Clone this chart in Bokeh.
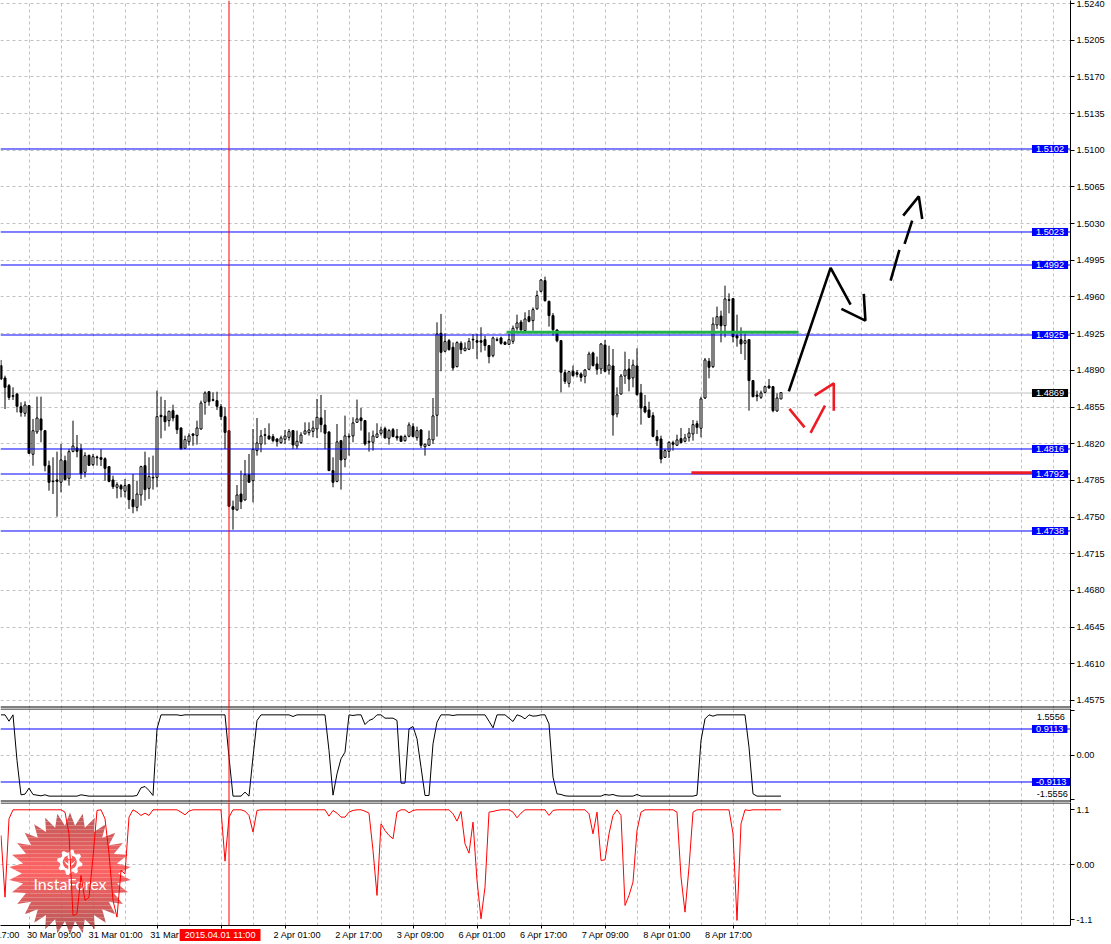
import math
import numpy as np
from bokeh.embed import file_html
from bokeh.resources import INLINE
from bokeh.layouts import column
from bokeh.plotting import figure
from bokeh.models import (ColumnDataSource, FixedTicker, Grid, Label, LinearAxis, NumeralTickFormatter,
                          PolyAnnotation, Range1d, Span)

# ---- prices, in points (1e-5) ---------------------------------------------------------------
open_pts = [
 148945,148827,148754,148658,148674,148553,148490,148563,148099,148312,
 148436,148324,147990,147844,147854,147832,148038,147870,148127,148159,
 148150,147927,148089,148000,148073,148067,148057,147981,147854,147784,
 147800,147746,147809,147666,147593,147711,147990,147774,147879,147879,
 148471,148464,148420,148515,148471,148350,148156,148219,148293,148277,
 148340,148595,148696,148620,148611,148553,148458,148324,147599,147568,
 147720,147663,147905,147847,148134,148197,148286,148274,148268,148245,
 148210,148242,148261,148325,148179,148210,148293,148306,148318,148341,
 148446,148379,148312,147943,147841,148229,148051,148271,148274,148404,
 148446,148420,148223,148214,148261,148299,148344,148252,148334,148271,
 148271,148229,148271,148363,148258,148331,148172,148185,148236,148471,
 149253,149082,149183,149120,148935,149158,149088,149101,149196,149183,
 149183,149193,149136,149040,149193,149209,149168,149148,149177,149304,
 149361,149279,149412,149374,149486,149654,149756,149558,149422,149285,
 149183,148878,148776,148891,148878,148865,148843,148910,149066,148961,
 148913,149142,148903,148942,148484,148674,148846,148913,148827,148942,
 148684,148554,148522,148468,148267,148245,148070,148127,148210,148185,
 148248,148223,148261,148293,148391,148347,148636,148986,148935,149333,
 149418,149326,149574,149584,149231,149193,149158,149193,148802,148665,
 148643,148690,148751,148744,148512,148627]
close_pts = [
 148817,148738,148642,148652,148557,148499,148569,148108,148324,148445,
 148331,147990,147832,147838,147841,148045,147857,148124,148178,148127,
 147911,148086,147994,148076,148067,148051,147965,147841,147790,147809,
 147768,147800,147666,147599,147720,147981,147762,147886,147873,148458,
 148458,148410,148509,148445,148334,148150,148239,148274,148280,148350,
 148588,148684,148601,148614,148557,148458,148308,147603,147574,147711,
 147647,147905,147832,148146,148207,148274,148280,148245,148229,148220,
 148255,148274,148315,148188,148223,148283,148322,148331,148350,148452,
 148382,148299,147943,147832,148217,148045,148274,148264,148398,148436,
 148420,148198,148214,148274,148293,148331,148255,148325,148268,148255,
 148223,148268,148379,148268,148325,148185,148194,148245,148465,149247,
 149072,149174,149098,148923,149164,149098,149113,149177,149190,149168,
 149168,149136,149031,149209,149187,149158,149148,149193,149301,149352,
 149285,149390,149368,149479,149613,149762,149565,149422,149288,149183,
 148881,148795,148887,148849,148862,148833,148903,149056,148945,148910,
 149151,148891,148951,148474,148665,148846,148903,148817,148951,148668,
 148541,148503,148452,148270,148229,148054,148134,148213,148194,148236,
 148210,148255,148302,148382,148356,148627,148999,148929,149342,149412,
 149326,149581,149568,149221,149209,149151,149183,148802,148649,148652,
 148684,148744,148732,148515,148636,148687]
high_pts = [
 148999,148849,148770,148738,148684,148595,148604,148569,148436,148649,
 148649,148331,148038,148070,148124,148197,148086,148149,148420,148283,
 148197,148118,148095,148102,148086,148149,148070,147987,147895,147832,
 147816,147863,147816,147911,147847,147990,148124,148070,148086,148706,
 148649,148617,148515,148572,148477,148356,148277,148299,148299,148420,
 148611,148700,148700,148690,148696,148579,148547,148331,147657,147806,
 147943,148045,148102,148340,148445,148331,148350,148394,148293,148252,
 148277,148331,148341,148331,148325,148309,148404,148404,148420,148627,
 148665,148522,148318,148070,148388,148236,148468,148299,148452,148621,
 148541,148427,148309,148325,148395,148363,148363,148341,148350,148341,
 148277,148287,148404,148395,148363,148338,148204,148325,148636,149358,
 149438,149253,149199,149167,149177,149177,149167,149209,149247,149247,
 149311,149231,149142,149222,149215,149222,149177,149247,149327,149431,
 149381,149454,149476,149501,149660,149772,149794,149565,149447,149291,
 149190,148907,148897,148945,148903,148881,148913,149078,149078,149031,
 149161,149190,149135,149104,148738,148865,149078,149008,149002,149110,
 148770,148665,148601,148500,148331,148277,148150,148223,148229,148286,
 148350,148293,148350,148426,148420,148649,149018,149018,149406,149508,
 149469,149708,149635,149590,149431,149310,149247,149199,148808,148706,
 148706,148754,148817,148751,148681,148693]
low_pts = [
 148808,148531,148617,148617,148499,148458,148458,148102,147990,148293,
 148213,147936,147752,147720,147504,147736,147847,147800,148118,148070,
 147863,147879,147987,147987,147991,147987,147847,147832,147768,147679,
 147688,147688,147577,147536,147555,147609,147657,147672,147762,147784,
 148251,148324,148363,148413,148293,148146,148150,148181,148181,148191,
 148334,148477,148563,148604,148522,148426,148150,147599,147380,147561,
 147577,147657,147832,147641,148086,148118,148191,148239,148213,148172,
 148198,148198,148229,148150,148150,148198,148287,148277,148261,148255,
 148309,148150,147940,147784,147832,147762,147975,148086,148214,148398,
 148325,148182,148124,148134,148255,148277,148249,148191,148261,148229,
 148217,148220,148261,148261,148229,148159,148086,148179,148198,148268,
 148891,149072,149088,148897,148929,149056,149082,149094,149104,149009,
 149072,149088,148967,149024,149177,149145,149145,149145,149152,149279,
 149279,149279,149358,149279,149479,149644,149555,149317,149231,149167,
 148690,148770,148738,148840,148833,148792,148776,148903,148938,148859,
 148865,148881,148859,148277,148452,148668,148770,148700,148738,148659,
 148382,148490,148445,148261,148178,148013,148064,148064,148134,148182,
 148204,148213,148220,148229,148293,148261,148627,148824,148922,149295,
 149167,149215,149444,149167,149126,149056,148999,148515,148643,148604,
 148627,148681,148725,148500,148506,148624]

# ---- oscillators ------------------------------------------------------------------------------
osc_black = [
 1.407,1.407,1.185,1.407,-0.193,-1.396,-1.372,-1.162,-1.384,-1.407,
 -1.431,-1.396,-1.442,-1.442,-1.442,-1.442,-1.442,-1.442,-1.442,-1.442,
 -1.396,-1.419,-1.442,-1.442,-1.442,-1.442,-1.442,-1.442,-1.442,-1.442,
 -1.442,-1.442,-1.442,-1.442,-1.419,-1.150,-1.104,-1.244,-1.419,0.917,
 1.407,1.407,1.407,1.407,1.407,1.384,1.407,1.407,1.407,1.407,
 1.407,1.407,1.407,1.407,1.407,1.407,1.407,-0.076,-1.442,-1.442,
 -1.442,-1.302,-1.442,-0.076,1.209,1.407,1.407,1.407,1.407,1.407,
 1.407,1.407,1.407,1.349,1.407,1.407,1.407,1.407,1.407,1.407,
 1.407,1.407,0.158,-1.407,-0.660,-0.134,0.099,1.407,1.384,1.407,
 1.407,1.069,1.209,1.267,1.407,1.407,1.291,1.291,1.291,1.209,
 -0.987,-0.987,0.917,0.999,0.566,-0.426,-1.419,-1.419,0.391,1.150,
 1.407,1.407,1.407,1.384,1.407,1.407,1.407,1.407,1.407,1.407,
 1.407,1.407,1.185,0.952,1.407,1.407,1.407,1.291,1.174,1.407,
 1.361,1.267,1.407,1.361,1.373,1.407,1.407,1.092,-0.777,-1.361,
 -1.384,-1.431,-1.442,-1.442,-1.442,-1.442,-1.442,-1.442,-1.442,-1.442,
 -1.442,-1.384,-1.407,-1.384,-1.431,-1.442,-1.442,-1.442,-1.442,-1.384,
 -1.442,-1.442,-1.442,-1.442,-1.442,-1.442,-1.442,-1.442,-1.442,-1.442,
 -1.442,-1.442,-1.442,-1.442,-1.407,0.508,1.267,1.407,1.361,1.407,
 1.407,1.407,1.407,1.407,1.407,1.407,1.407,0.274,-1.361,-1.442,
 -1.442,-1.442,-1.442,-1.442,-1.442,-1.442]
osc_red = [
 0.587,-0.647,0.920,1.100,1.100,1.100,1.100,1.100,1.100,1.100,
 1.100,1.100,1.100,1.100,1.100,1.100,1.053,0.620,-1.013,-0.980,
 -0.213,-0.713,-0.647,0.153,1.087,1.100,0.920,0.220,-0.713,-1.047,
 -0.113,-0.180,0.953,1.100,1.053,0.987,1.033,0.987,1.100,1.100,
 1.100,1.100,1.100,1.100,1.100,1.053,1.000,1.073,1.100,1.100,
 1.100,1.100,1.100,1.100,1.100,1.100,0.073,0.953,1.100,1.100,
 1.100,1.073,0.987,0.653,1.087,1.100,1.100,1.100,1.100,1.100,
 1.100,1.100,1.100,1.100,1.100,1.100,1.100,1.100,1.100,1.100,
 1.100,1.100,0.973,1.087,1.033,0.953,0.953,1.053,1.087,1.100,
 1.100,1.073,1.033,0.287,-0.613,0.820,0.687,0.587,0.520,1.053,
 1.100,1.100,1.040,1.087,1.100,1.100,1.100,1.100,1.100,1.100,
 1.100,1.100,1.100,1.020,0.873,1.067,0.420,0.233,0.853,-0.313,
 -1.080,-0.447,1.053,1.067,1.087,1.100,1.100,1.100,1.053,0.940,
 1.033,1.100,1.100,1.100,1.100,1.100,1.100,0.987,1.087,1.100,
 1.100,1.100,1.100,1.100,1.100,1.100,1.100,1.020,0.620,1.053,
 0.087,0.100,0.620,0.987,1.100,0.987,-0.813,-0.613,-0.347,0.687,
 1.053,1.100,1.100,1.100,1.100,1.100,1.100,1.100,1.100,1.053,
 -0.247,-0.947,-0.047,1.053,1.100,1.100,1.100,1.100,1.100,1.100,
 1.100,1.100,1.100,0.620,-1.113,0.820,1.100,1.087,1.100,1.100,
 1.100,1.100,1.100,1.100,1.100,1.100]

# ---- levels and labels ------------------------------------------------------------------------
level_values = [1.510118, 1.502199, 1.49905, 1.492371, 1.481495, 1.479109, 1.473671]
level_labels = ["1.5102", "1.5023", "1.4992", "1.4925", "1.4816", "1.4792", "1.4738"]
bid_price = 1.486837
bid_label = "1.4869"
price_ticks = [1.4575, 1.4610, 1.4645, 1.4680, 1.4715, 1.4750, 1.4785, 1.4820, 1.4855, 1.4890,
               1.4925, 1.4960, 1.4995, 1.5030, 1.5065, 1.5100, 1.5135, 1.5170, 1.5205, 1.5240]
time_tick_bars = [-9, 7, 23, 39, 71, 87, 103, 119, 135, 151, 167, 183]
time_tick_labels = ["27 Mar 17:00", "30 Mar 09:00", "31 Mar 01:00", "31 Mar", "2 Apr 01:00", "2 Apr 17:00",
                    "3 Apr 09:00", "6 Apr 01:00", "6 Apr 17:00", "7 Apr 09:00", "8 Apr 01:00", "8 Apr 17:00"]
grid_bars = list(range(7, 268, 8))
cross_bar = 57
cross_label = "2015.04.01 11:00"
osc1_levels = [0.9113, -0.9463]
osc1_level_labels = ["0.9113", "-0.9113"]
osc1_limit = 1.5556
osc2_limit = 1.1

# ---- hand-drawn analysis marks, (bar, price) --------------------------------------------------
green_bars, green_prices = [126.4, 199.4], [1.49263, 1.49263]
support_bars, support_prices = [172.6, 262.9], [1.47924, 1.47924]
black_paths = [
    ([196.95, 207.4, 212.4], [1.48700, 1.49877, 1.49527]),
    ([210.1, 216.1, 215.7], [1.49486, 1.49374, 1.49629]),
    ([222.4, 224.6], [1.49756, 1.50049]),
    ([225.9, 227.8], [1.50106, 1.50328]),
    ([225.55, 229.45, 230.3], [1.50376, 1.50560, 1.50344]),
]
red_paths = [
    ([197.1, 200.9], [1.48532, 1.48356]),
    ([202.4, 206.0], [1.48303, 1.48563]),
    ([203.4, 208.2, 208.2], [1.48659, 1.48776, 1.48515]),
]

FONT = "Liberation Sans"
FS = "9.2px"
BLUE = "#0000ff"
GRID = "#c0c0c0"
WIDTH, HEIGHT = 1111, 944
PX = 10481.0                 # pixels per unit of price
S2, Z2 = 28.53, 46.5         # first oscillator: pixels per unit, zero below its panel's top
S3, Z3 = 50.0, 62.3          # second oscillator
P2_TOP, P3_TOP = 708, 802

bars = np.arange(len(open_pts))
o = np.array(open_pts) / 1e5
c = np.array(close_pts) / 1e5
h = np.array(high_pts) / 1e5
l = np.array(low_pts) / 1e5
x_range = Range1d(-0.125, 1070 / 4 - 0.125)


def panel(height, frame_h, y0, y1, ticks, bottom=0):
    p = figure(width=WIDTH, height=height, frame_width=1070, frame_height=frame_h,
               x_range=x_range, y_range=Range1d(y0, y1), output_backend="svg", toolbar_location=None,
               x_axis_location=None, y_axis_location=None, min_border_left=0, min_border_right=41,
               min_border_top=0, min_border_bottom=bottom, outline_line_color=None)
    ax = LinearAxis(ticker=FixedTicker(ticks=ticks), major_tick_out=4, major_tick_in=0,
                    minor_tick_line_color=None, axis_line_color="black", major_tick_line_color="black",
                    major_label_standoff=2, major_label_text_font=FONT, major_label_text_font_size=FS,
                    major_label_text_color="black")
    p.add_layout(ax, "right")
    p.xgrid.visible = False
    p.ygrid.visible = False
    return p, ax


def add_grid(p, y_ticks):
    p.add_layout(Grid(dimension=0, ticker=FixedTicker(ticks=grid_bars), grid_line_color=GRID,
                      grid_line_dash="3 3", grid_line_width=1))
    p.add_layout(Grid(dimension=1, ticker=FixedTicker(ticks=y_ticks), grid_line_color=GRID,
                      grid_line_dash="3 3", grid_line_width=1))


# ---- main panel -------------------------------------------------------------------------------
p1, ax1 = panel(708, 708, 1.5240 - 705 / PX, 1.5240 + 3 / PX, price_ticks)
ax1.formatter = NumeralTickFormatter(format="0.0000")
add_grid(p1, price_ticks)
p1.add_layout(Span(location=bid_price, dimension="width", line_color="#c0c0c0", line_width=1, level="underlay"))
src = ColumnDataSource(dict(x=bars, o=o, c=c, h=h, l=l, top=np.maximum(o, c), bot=np.minimum(o, c),
                            fill=["white" if cc >= oo else "black" for oo, cc in zip(o, c)]))
p1.segment("x", "h", "x", "l", source=src, line_color="black", line_width=1)
p1.vbar(x="x", width=0.5, top="top", bottom="bot", source=src, fill_color="fill", line_color="black", line_width=1)
for v in level_values:
    p1.add_layout(Span(location=v, dimension="width", line_color=BLUE, line_width=1))
p1.line(green_bars, green_prices, line_color="#22b14c", line_width=3, level="overlay")
p1.line(support_bars, support_prices, line_color="#ed1c24", line_width=3, level="overlay")
for xs, ys in black_paths:
    p1.line(xs, ys, line_color="black", line_width=2.6, level="overlay")
for xs, ys in red_paths:
    p1.line(xs, ys, line_color="#ed1c24", line_width=2.6, level="overlay")
p1.add_layout(Span(location=706.5, location_units="canvas", dimension="width", line_color="black", line_width=1))
p1.add_layout(Span(location=cross_bar, dimension="height", line_color="#ff0000", line_width=1))

# ---- first oscillator -------------------------------------------------------------------------
p2, ax2 = panel(94, 94, (Z2 - 94) / S2, Z2 / S2, [osc1_limit, 0, -osc1_limit])
ax2.major_label_overrides = {osc1_limit: "", 0: "0.00", -osc1_limit: ""}
add_grid(p2, [0])
p2.line(bars, osc_black, line_color="black", line_width=1)
for v in osc1_levels:
    p2.add_layout(Span(location=v, dimension="width", line_color=BLUE, line_width=1))
p2.add_layout(Span(location=0.5, location_units="canvas", dimension="width", line_color="black", line_width=1))
p2.add_layout(Span(location=92.5, location_units="canvas", dimension="width", line_color="black", line_width=1))
p2.add_layout(Span(location=cross_bar, dimension="height", line_color="#ff0000", line_width=1))

# ---- second oscillator ------------------------------------------------------------------------
p3, ax3 = panel(142, 123, (Z3 - 123) / S3, Z3 / S3, [osc2_limit, 0, -osc2_limit], bottom=19)
ax3.major_label_overrides = {osc2_limit: "1.1", 0: "0.00", -osc2_limit: "-1.1"}
add_grid(p3, [0])

# Overlay over the whole page: its frame covers everything, so tags outside the panels are not clipped.
ov = figure(width=WIDTH, height=HEIGHT, x_range=Range1d(0, WIDTH), y_range=Range1d(HEIGHT, 0),
            output_backend="svg", toolbar_location=None, x_axis_location=None, y_axis_location=None,
            min_border=0, outline_line_color=None, background_fill_color=None, border_fill_color=None,
            margin=(-HEIGHT, 0, 0, 0))
ov.xgrid.visible = False
ov.ygrid.visible = False
ov.extra_x_ranges = {"bars": Range1d(-0.125, WIDTH / 4 - 0.125)}
ov.extra_y_ranges = {
    "price": Range1d(1.5240 - (HEIGHT - 3) / PX, 1.5240 + 3 / PX),
    "osc1": Range1d((Z2 + P2_TOP - HEIGHT) / S2, (Z2 + P2_TOP) / S2),
}


def clip_band(pts, y0, y1):
    def clip(poly, inside, cross):
        out = []
        for i, a in enumerate(poly):
            b = poly[(i + 1) % len(poly)]
            if inside(a):
                out.append(a)
            if inside(a) != inside(b):
                t = (cross - a[1]) / (b[1] - a[1])
                out.append((a[0] + t * (b[0] - a[0]), cross))
        return out
    r = clip(pts, lambda q: q[1] >= y0, y0)
    return clip(r, lambda q: q[1] <= y1, y1) if r else r


def poly(xs, ys, color, alpha=1.0, fig=None, dy=0):
    (fig or p3).add_layout(PolyAnnotation(xs=list(xs), ys=[v + dy for v in ys], xs_units="canvas", ys_units="canvas",
                                          fill_color=color, fill_alpha=alpha, line_color=None, level="underlay"))


# Logo (a decoration placed on the canvas, not data)
cx, cy, r_out, r_in, spikes = 69.5, 71.0, 61.0, 48.0, 30
star = []
for i in range(spikes * 2):
    a = math.pi * i / spikes - math.pi / 2
    r = r_out if i % 2 == 0 else r_in
    star.append((cx + r * math.cos(a), cy + r * math.sin(a)))
for y in range(11 - 4, int(cy + r_out) + 1, 4):
    band = clip_band(star, y, y + 4)
    if len(band) < 3:
        continue
    f = min(1.0, abs(y + 2 - cy + 4) / 55.0)
    col = "#%02x%02x%02x" % (int(255 - 70 * f), int(88 - 10 * f), int(88 - 10 * f))
    if y >= 123:
        poly([q[0] for q in band], [q[1] for q in band], col, 0.93, fig=ov, dy=P3_TOP)
    else:
        poly([q[0] for q in band], [q[1] for q in band], col, 0.93)
gx, gy = 69.3, 59.7
teeth = 8
g = []
for i in range(teeth * 4):
    a = 2 * math.pi * i / (teeth * 4) + math.pi / teeth / 4
    r = 12.8 if i % 4 in (0, 1) else 9.8
    g.append((gx + r * math.cos(a), gy + r * math.sin(a)))
poly([q[0] for q in g], [q[1] for q in g], "white")
poly([gx + 7 * math.cos(t / 12 * math.pi) for t in range(24)], [gy + 7 * math.sin(t / 12 * math.pi) for t in range(24)], "#f65a5a")
poly([gx - 1.5, gx + 1.5, gx + 1.5, gx - 1.5], [gy - 2, gy - 2, gy + 11, gy + 11], "white")
poly([gx - 6, gx - 1, gx - 1, gx - 3.5], [gy - 2, gy + 2, gy + 4, gy + 2], "white")
poly([gx + 6, gx + 1, gx + 1, gx + 3.5], [gy - 2, gy + 2, gy + 4, gy + 2], "white")
poly([gx + 2.2 * math.cos(t / 6 * math.pi) for t in range(12)], [gy - 5 + 2.2 * math.sin(t / 6 * math.pi) for t in range(12)], "white")
p3.add_layout(Label(x=69.5, x_units="canvas", y=80.5, y_units="canvas", text="InstaForex", text_color="white",
                    text_font="Lato", text_font_size="16px", text_align="center", text_baseline="middle",
                    level="underlay"))

p3.line(bars, osc_red, line_color="#ff0000", line_width=1)
bottom_axis = LinearAxis(ticker=FixedTicker(ticks=time_tick_bars + [55]), major_tick_out=3, major_tick_in=0,
                         minor_tick_line_color=None, axis_line_color="black", major_tick_line_color="black",
                         major_label_overrides={t: "" for t in time_tick_bars + [55]},
                         major_label_text_font_size="1px")
p3.add_layout(bottom_axis, "below")
p3.add_layout(Span(location=0.5, location_units="canvas", dimension="width", line_color="black", line_width=1))
p3.add_layout(Span(location=cross_bar, dimension="height", line_color="#ff0000", line_width=1))


def tag(y, text, bg, range_name):
    ov.add_layout(Label(x=1071, y=y, y_range_name=range_name, text=text, text_color="white",
                        text_font=FONT, text_font_size=FS, text_baseline="middle", text_align="left",
                        background_fill_color=bg, padding=(4, 1)))


for v, t in zip(level_values, level_labels):
    tag(v, t, BLUE, "price")
tag(bid_price, bid_label, "black", "price")
for v, off in ((osc1_limit, -6), (-osc1_limit, 5)):
    ov.add_layout(Label(x=1076, y=v, y_range_name="osc1", y_offset=off, text=f"{v:.4f}", text_font=FONT,
                        text_font_size=FS, text_baseline="middle", text_color="black"))
for v, t in zip(osc1_levels, osc1_level_labels):
    tag(v, t, BLUE, "osc1")
for k, t in zip(time_tick_bars, time_tick_labels):
    ov.add_layout(Label(x=k, x_range_name="bars", y=934.5, x_offset=-1, text=t, text_font=FONT, text_font_size=FS,
                        text_baseline="middle", text_align="left", text_color="black"))
ov.add_layout(Label(x=228, y=934.5, text=cross_label, text_color="white", text_font=FONT, text_font_size=FS,
                    text_baseline="middle", text_align="center", background_fill_color="#ff0000", padding=(5, 1)))

page = column(p1, p2, p3, ov, spacing=0)
open("out.html", "w").write(file_html(page, INLINE))
